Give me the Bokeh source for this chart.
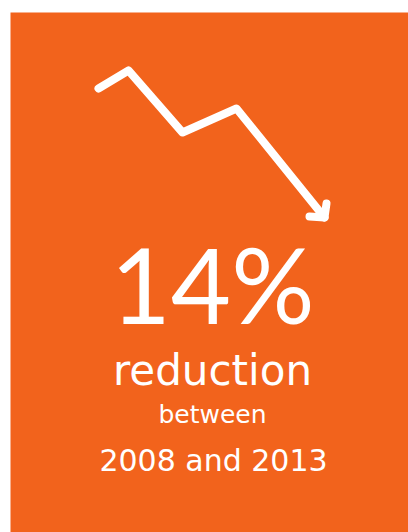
from bokeh.plotting import figure
from bokeh.models import Range1d
from bokeh.core.properties import value
from bokeh.embed import file_html
from bokeh.resources import INLINE

# Trend line (illustrative decline), frame coordinates
trend_x = [88, 118, 172, 226, 314]
trend_y = [76, 58, 120, 96, 205]
# Arrowhead barbs
head_x = [316, 314, 299]
head_y = [191, 205, 204]

headline = "14%"
line2 = "reduction"
line3 = "between"
line4 = "2008 and 2013"

ORANGE = "#F2631C"

p = figure(width=408, height=532, output_backend="svg", toolbar_location=None,
           x_range=Range1d(0, 398), y_range=Range1d(520, 0),
           min_border_left=10, min_border_top=12, min_border_right=0, min_border_bottom=0)
p.axis.visible = False
p.grid.visible = False
p.outline_line_color = None
p.background_fill_color = ORANGE
p.border_fill_color = "white"

p.line(trend_x, trend_y, line_color="white", line_width=8,
       line_cap="round", line_join="round")
p.line(head_x, head_y, line_color="white", line_width=8,
       line_cap="round", line_join="round")

xs = [202, 202, 202, 203]
ys = [311 - 0.387 * 104, 358, 402, 448]
txt = [headline, line2, line3, line4]
sizes = ["104px", "42px", "25px", "30px"]
fonts = ["Lato", "DejaVu Sans", "DejaVu Sans", "DejaVu Sans"]
for i in range(4):
    p.text(x=[xs[i]], y=[ys[i]], text=[txt[i]], text_font_size=sizes[i],
           text_font=value(fonts[i]), text_color="white",
           text_align="center", text_baseline="alphabetic")

open("out.html", "w").write(file_html(p, INLINE))
